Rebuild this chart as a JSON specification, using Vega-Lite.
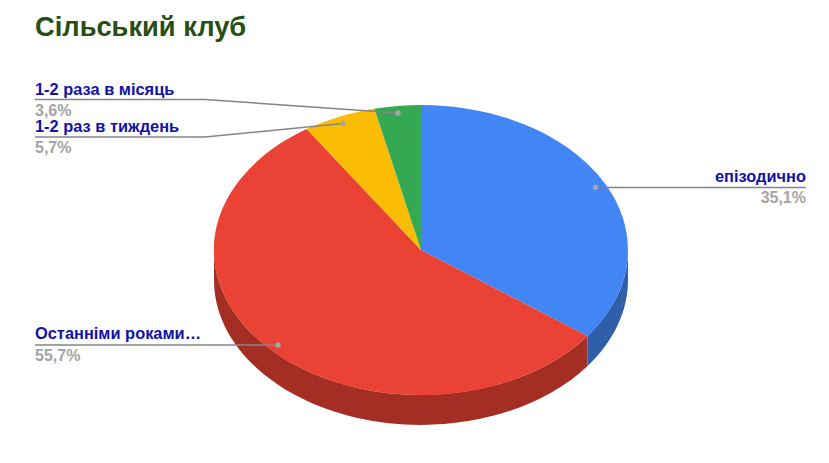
{
"$schema":"https://vega.github.io/schema/vega-lite/v6.json",
"width":829,"height":463,"padding":0,"autosize":"none","background":"white",
"config":{"view":{"stroke":null},"font":"Liberation Sans"},
"title":{"text":"Сільський клуб","anchor":"start","frame":"group","offset":-41,"dx":35,"font":"Liberation Sans","fontSize":27.3,"fontWeight":"bold","color":"#274e13"},
"data":{"values":[
{"category":"епізодично","share":35.1,"pct":"35,1%"},
{"category":"Останніми роками…","share":55.7,"pct":"55,7%"},
{"category":"1-2 раз в тиждень","share":5.7,"pct":"5,7%"},
{"category":"1-2 раза в місяць","share":3.6,"pct":"3,6%"}
]},
"resolve":{"scale":{"x":"independent","y":"independent","shape":"independent","color":"independent"}},
"layer":[
{"transform":[{"filter":"datum.share>30"}],
 "mark":{"type":"point","filled":true,"opacity":1,"strokeWidth":0,"size":4},
 "encoding":{
  "x":{"datum":0,"type":"quantitative","scale":{"domain":[-1,1]},"axis":null},
  "y":{"datum":0,"type":"quantitative","scale":{"domain":[-1,1]},"axis":null},
  "shape":{"field":"category","type":"nominal","legend":null,"scale":{"domain":["епізодично","Останніми роками…"],"range":[
   "M213.5 18.5A207 145 0 0 1 173.1 104.5L173.1 134.5A207 145 0 0 0 213.5 48.5Z",
   "M173.1 104.5A207 145 0 0 1 -200.5 18.5L-200.5 48.5A207 145 0 0 0 173.1 134.5Z"]}},
  "color":{"field":"category","type":"nominal","legend":null,"scale":{"domain":["епізодично","Останніми роками…"],"range":["#2f5fa9","#a52e24"]}}
 }},
{"mark":{"type":"point","filled":true,"opacity":1,"strokeWidth":0,"size":4},
 "encoding":{
  "x":{"datum":0,"type":"quantitative","scale":{"domain":[-1,1]},"axis":null},
  "y":{"datum":0,"type":"quantitative","scale":{"domain":[-1,1]},"axis":null},
  "shape":{"field":"category","type":"nominal","legend":null,"scale":{"domain":["епізодично","Останніми роками…","1-2 раз в тиждень","1-2 раза в місяць"],"range":[
   "M6.5 18.5L6.5 -126.5A207 145 0 0 1 173.1 104.5Z",
   "M6.5 18.5L173.1 104.5A207 145 0 1 1 -107.8 -102.4Z",
   "M6.5 18.5L-107.8 -102.4A207 145 0 0 1 -40.1 -122.7Z",
   "M6.5 18.5L-40.1 -122.7A207 145 0 0 1 6.5 -126.5Z"]}},
  "color":{"field":"category","type":"nominal","legend":null,"scale":{"domain":["епізодично","Останніми роками…","1-2 раз в тиждень","1-2 раза в місяць"],"range":["#4285f4","#ea4335","#fbbc04","#34a853"]}}
 }},
{"mark":{"type":"point","filled":false,"opacity":1,"size":4,"color":"#858585","strokeWidth":1.5},
 "encoding":{
  "x":{"datum":0,"type":"quantitative","scale":{"domain":[-1,1]},"axis":null},
  "y":{"datum":0,"type":"quantitative","scale":{"domain":[-1,1]},"axis":null},
  "shape":{"field":"category","type":"nominal","legend":null,"scale":{"domain":["епізодично","Останніми роками…","1-2 раз в тиждень","1-2 раза в місяць"],"range":[
   "M181 -44L391.5 -44",
   "M-379.5 113.5L-136.5 113.5",
   "M-379.5 -94.5L-209.5 -94.5L-71.5 -108",
   "M-379.5 -132L-209.5 -132L-16.5 -118.5"]}}
 }},
{"mark":{"type":"point","filled":true,"opacity":1,"size":28,"color":"#a6a6a6","strokeWidth":0},
 "encoding":{
  "x":{"field":"share","type":"quantitative","axis":null,"scale":{"zero":false,"nice":false,"domain":[3.6,5.7,35.1,55.7],"range":[398,343,595.5,278]}},
  "y":{"field":"share","type":"quantitative","axis":null,"scale":{"zero":false,"nice":false,"domain":[3.6,5.7,35.1,55.7],"range":[113,123.5,187.5,345]}}
 }},
{"transform":[{"filter":"datum.share<30||datum.share>50"}],
 "mark":{"type":"text","align":"left","baseline":"alphabetic","font":"Liberation Sans","fontWeight":"bold","fontSize":16.4,"color":"#1111a6"},
 "encoding":{
  "text":{"field":"category"},
  "x":{"field":"share","type":"quantitative","axis":null,"scale":{"zero":false,"nice":false,"domain":[3.6,55.7],"range":[35,35]}},
  "y":{"field":"share","type":"quantitative","axis":null,"scale":{"zero":false,"nice":false,"domain":[3.6,5.7,55.7],"range":[95,132,339]}}
 }},
{"transform":[{"filter":"datum.share<30||datum.share>50"}],
 "mark":{"type":"text","align":"left","baseline":"alphabetic","font":"Liberation Sans","fontWeight":"bold","fontSize":16,"color":"#a3a3a3"},
 "encoding":{
  "text":{"field":"pct"},
  "x":{"field":"share","type":"quantitative","axis":null,"scale":{"zero":false,"nice":false,"domain":[3.6,55.7],"range":[35,35]}},
  "y":{"field":"share","type":"quantitative","axis":null,"scale":{"zero":false,"nice":false,"domain":[3.6,5.7,55.7],"range":[116,153,361]}}
 }},
{"transform":[{"filter":"datum.share>30&&datum.share<50"}],
 "mark":{"type":"text","align":"right","baseline":"alphabetic","font":"Liberation Sans","fontWeight":"bold","fontSize":16.4,"color":"#1111a6"},
 "encoding":{
  "text":{"field":"category"},
  "x":{"field":"share","type":"quantitative","axis":null,"scale":{"zero":false,"nice":false,"domain":[35,36],"range":[806,806]}},
  "y":{"field":"share","type":"quantitative","axis":null,"scale":{"zero":false,"nice":false,"domain":[35,36],"range":[182,182]}}
 }},
{"transform":[{"filter":"datum.share>30&&datum.share<50"}],
 "mark":{"type":"text","align":"right","baseline":"alphabetic","font":"Liberation Sans","fontWeight":"bold","fontSize":16,"color":"#a3a3a3"},
 "encoding":{
  "text":{"field":"pct"},
  "x":{"field":"share","type":"quantitative","axis":null,"scale":{"zero":false,"nice":false,"domain":[35,36],"range":[806,806]}},
  "y":{"field":"share","type":"quantitative","axis":null,"scale":{"zero":false,"nice":false,"domain":[35,36],"range":[203,203]}}
 }}
]}
